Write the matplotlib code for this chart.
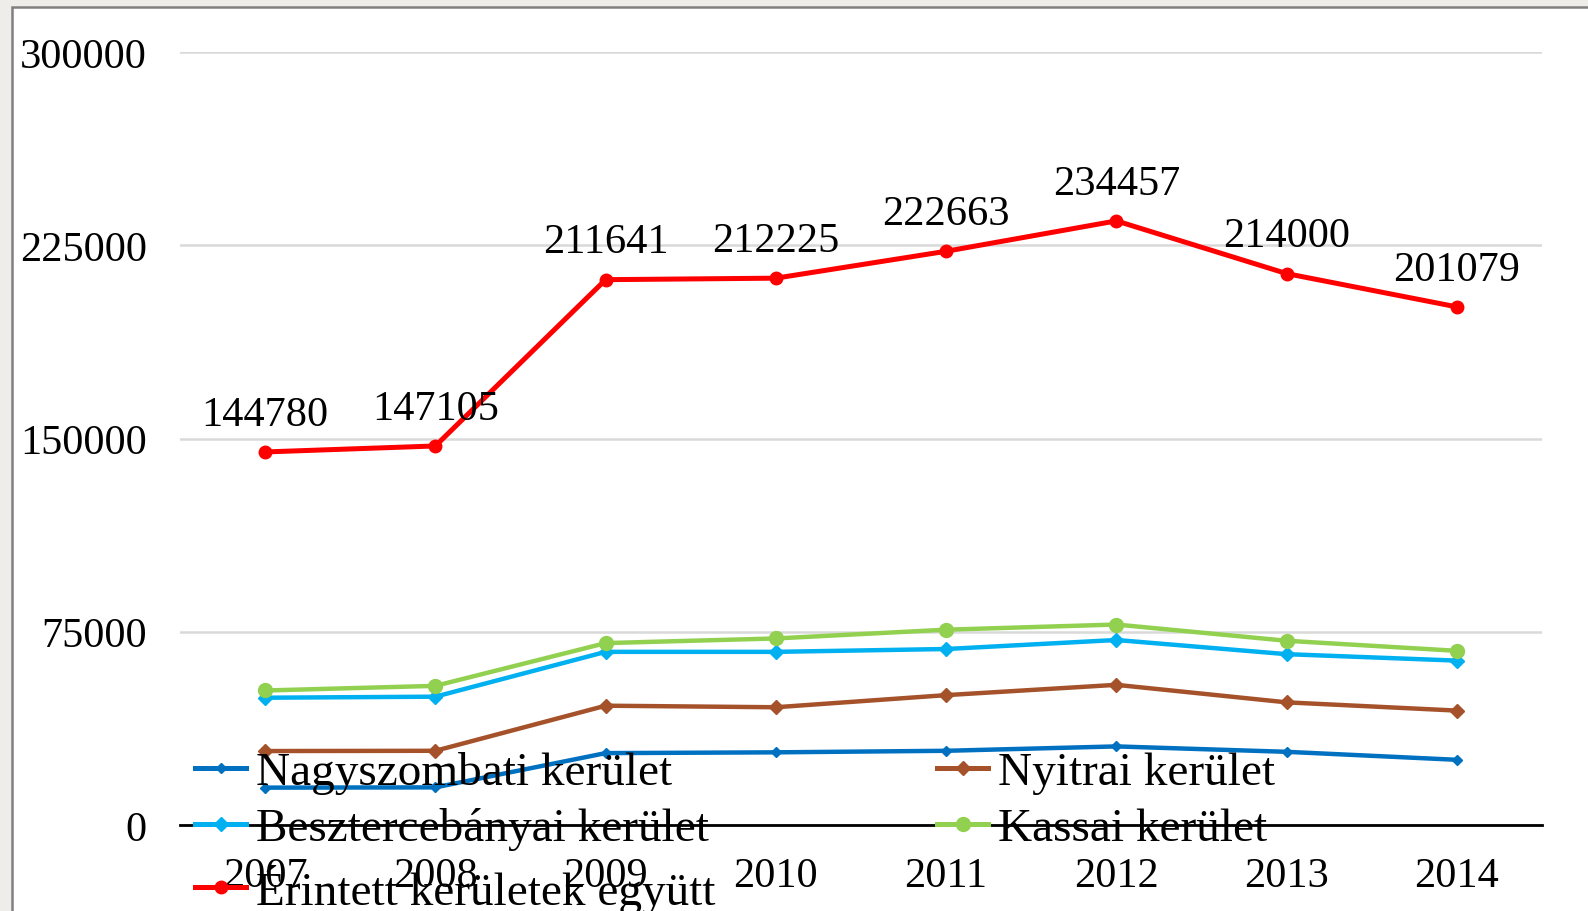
import matplotlib.pyplot as plt
from matplotlib.patches import Rectangle

plt.rcParams['font.family'] = ['Liberation Serif', 'DejaVu Serif']

# Data
years = ['2007', '2008', '2009', '2010', '2011', '2012', '2013', '2014']
nagyszombati = [14500, 14600, 27900, 28200, 28800, 30500, 28400, 25300]
nyitrai = [28700, 28800, 46300, 45700, 50400, 54400, 47600, 44400]
besztercebanyai = [49400, 49800, 67200, 67200, 68300, 71800, 66300, 63800]
kassai = [52200, 54000, 70600, 72400, 75800, 77800, 71500, 67600]
egyutt = [144780, 147105, 211641, 212225, 222663, 234457, 214000, 201079]

W, H = 1588, 912
fig = plt.figure(figsize=(W / 100, H / 100), dpi=100, facecolor='#eeede9')

# white slide panel with grey border
fig.patches.append(Rectangle((12 / W, -0.05), 1.05, 1 - 8 / H + 0.05,
                             transform=fig.transFigure, facecolor='white',
                             edgecolor='#808080', linewidth=1.8, zorder=-5))

ax = fig.add_axes([180 / W, 1 - 826 / H, (1542 - 180) / W, (826 - 53) / H])
ax.set_facecolor('none')

x = range(len(years))
l1, = ax.plot(x, nagyszombati, color='#0070c0', lw=3.2, marker='D', ms=5, label='Nagyszombati kerület')
l2, = ax.plot(x, nyitrai, color='#a5522b', lw=3.2, marker='D', ms=7, label='Nyitrai kerület')
l3, = ax.plot(x, besztercebanyai, color='#00b0f0', lw=3.2, marker='D', ms=7, label='Besztercebányai kerület')
l4, = ax.plot(x, kassai, color='#92d050', lw=3.2, marker='o', ms=10, label='Kassai kerület')
l5, = ax.plot(x, egyutt, color='#ff0000', lw=3.6, marker='o', ms=9, label='Érintett kerületek együtt')

for i, v in enumerate(egyutt):
    ax.annotate(str(v), (i, v), xytext=(0, 27), textcoords='offset points',
                ha='center', va='center', fontsize=30.5)

ax.set_xlim(-0.5, len(years) - 0.5)
ax.set_ylim(0, 300000)
ax.set_yticks([0, 75000, 150000, 225000, 300000])
ax.set_yticklabels(['0', '75000', '150000', '225000', '300000'])
ax.set_xticks(list(x))
ax.set_xticklabels(years)
ax.tick_params(axis='both', length=0, labelsize=30.5)
ax.tick_params(axis='y', pad=24)
ax.tick_params(axis='x', pad=23)
ax.grid(axis='y', color='#d9d9d9', lw=1.8)
ax.set_axisbelow(True)
for s in ['top', 'right', 'left']:
    ax.spines[s].set_visible(False)
ax.spines['bottom'].set_color('black')
ax.spines['bottom'].set_linewidth(2)
ax.spines['bottom'].set_zorder(2.5)

leg = fig.legend([l1, l3, l5, l2, l4],
                 [l1.get_label(), l3.get_label(), l5.get_label(), l2.get_label(), l4.get_label()],
                 loc='upper left', bbox_to_anchor=(195 / W, 1 - 752 / H), ncol=2,
                 frameon=False, fontsize=34, borderpad=0, borderaxespad=0,
                 handlelength=1.08, handletextpad=0.21, labelspacing=0.28,
                 columnspacing=4.7)
for h in leg.legend_handles:
    h.set_linewidth(3.6)

fig.savefig('out.png', dpi=100, facecolor=fig.get_facecolor())
